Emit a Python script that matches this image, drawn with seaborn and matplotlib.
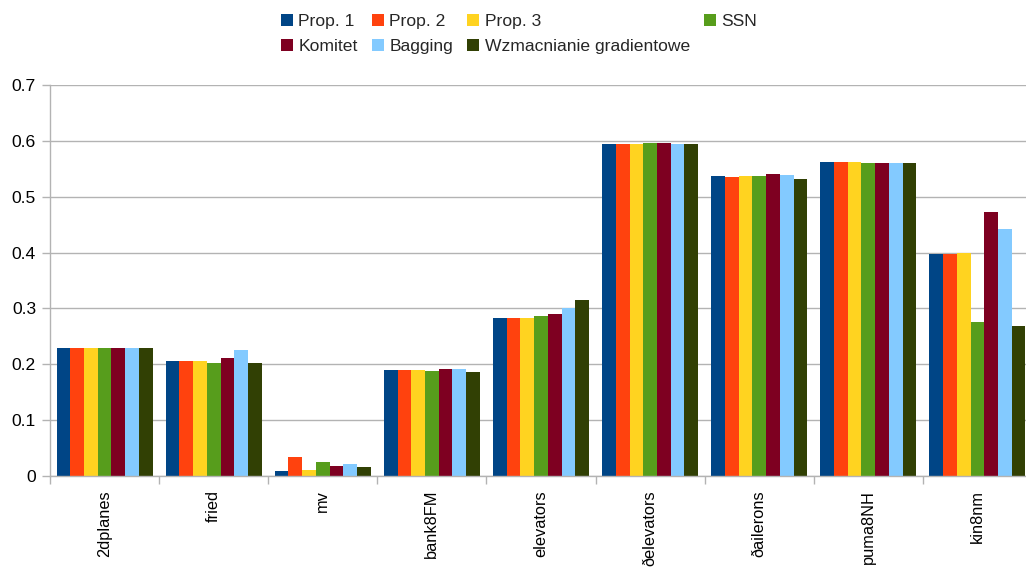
import matplotlib
matplotlib.use("Agg")
import matplotlib.pyplot as plt
import seaborn as sns
import pandas as pd
from matplotlib.patches import Patch
from matplotlib.ticker import FixedLocator

datasets = ["2dplanes", "fried", "mv", "bank8FM", "elevators",
            "ðelevators", "ðailerons", "puma8NH", "kin8nm"]
methods = ["Prop. 1", "Prop. 2", "Prop. 3", "SSN", "Komitet", "Bagging",
           "Wzmacnianie gradientowe"]
colors = ["#004586", "#ff420e", "#ffd320", "#579d1c", "#7e0021", "#83caff", "#314004"]

prop1 = [0.229, 0.206, 0.009, 0.190, 0.283, 0.595, 0.537, 0.563, 0.398]
prop2 = [0.229, 0.206, 0.034, 0.190, 0.283, 0.595, 0.535, 0.563, 0.398]
prop3 = [0.229, 0.206, 0.011, 0.190, 0.283, 0.595, 0.537, 0.563, 0.400]
ssn = [0.229, 0.202, 0.025, 0.188, 0.286, 0.597, 0.537, 0.561, 0.276]
komitet = [0.229, 0.211, 0.018, 0.191, 0.290, 0.597, 0.541, 0.561, 0.472]
bagging = [0.229, 0.226, 0.021, 0.191, 0.301, 0.595, 0.539, 0.561, 0.443]
wzmacnianie = [0.229, 0.202, 0.017, 0.186, 0.315, 0.595, 0.532, 0.561, 0.268]

series = [prop1, prop2, prop3, ssn, komitet, bagging, wzmacnianie]
rows = []
for name, vals in zip(methods, series):
    for ds, v in zip(datasets, vals):
        rows.append({"zbiór": ds, "metoda": name, "wartość": v})
df = pd.DataFrame(rows)

sns.set_theme(style="white")
plt.rcParams["font.family"] = ["Liberation Sans", "DejaVu Sans"]
fs = 12.6
fs_x = 11.8

W, H = 1026, 568
fig = plt.figure(figsize=(W / 100, H / 100), dpi=100)
# plot area runs slightly past the right edge of the canvas
ax = fig.add_axes([50 / W, 1 - 476 / H, 982 / W, 391 / H])

sns.barplot(data=df, x="zbiór", y="wartość", hue="metoda", order=datasets,
            hue_order=methods, palette=colors, width=0.88, saturation=1,
            linewidth=0, dodge=True, legend=False, ax=ax)

grey = "#b3b3b3"
ax.set_xlim(-0.5, len(datasets) - 0.5)
ax.set_ylim(0, 0.7)
yt = [0, 0.1, 0.2, 0.3, 0.4, 0.5, 0.6, 0.7]
ax.set_yticks(yt)
ax.set_yticklabels(["0", "0.1", "0.2", "0.3", "0.4", "0.5", "0.6", "0.7"],
                   fontsize=fs, color="black")
ax.yaxis.grid(True, color=grey, linewidth=1.0)
ax.set_axisbelow(True)
ax.tick_params(axis="y", which="major", length=6, width=1, color=grey,
               direction="out", left=True, pad=4)

ax.set_xticks(range(len(datasets)))
ax.set_xticklabels(datasets, rotation=90, fontsize=fs_x, color="black")
ax.xaxis.set_minor_locator(FixedLocator([i - 0.5 for i in range(len(datasets) + 1)]))
ax.tick_params(axis="x", which="major", length=0, pad=10)
ax.tick_params(axis="x", which="minor", length=6, width=1, color=grey,
               direction="out", bottom=True)

for side in ["top", "right"]:
    ax.spines[side].set_visible(False)
for side in ["left", "bottom"]:
    ax.spines[side].set_color(grey)
    ax.spines[side].set_linewidth(1.0)
ax.set_xlabel("")
ax.set_ylabel("")

# legend laid out row by row across four columns
order = [0, 4, 1, 5, 2, 6, 3]
handles = [Patch(facecolor=colors[i], edgecolor="none") for i in order]
labels = [methods[i] for i in order]
fig.legend(handles, labels, loc="upper left", bbox_to_anchor=(281 / W, 1 - 14 / H),
           ncol=4, frameon=False, fontsize=fs, handlelength=0.7,
           handleheight=0.7, handletextpad=0.3, columnspacing=0.8,
           labelspacing=0.53, borderaxespad=0, borderpad=0)

fig.savefig("out.png", dpi=100)
